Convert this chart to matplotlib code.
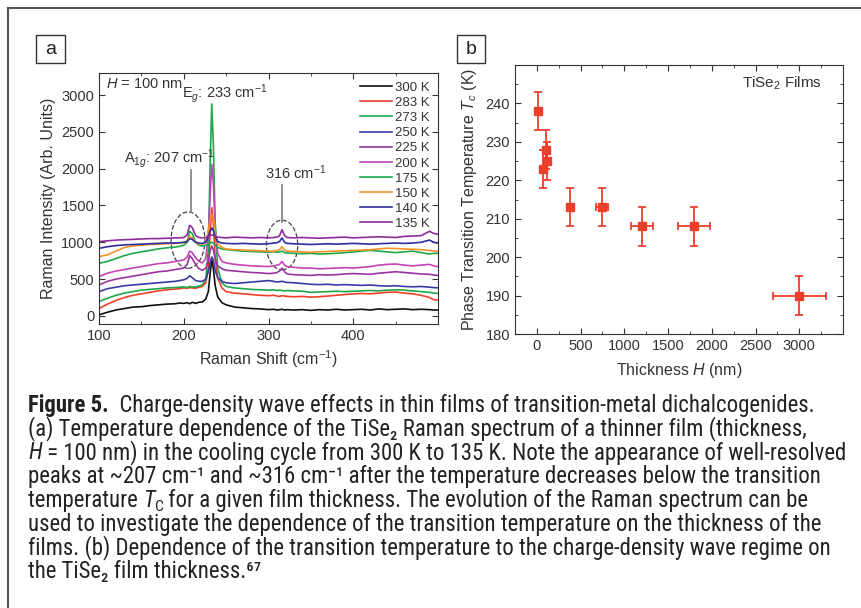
import numpy as np
import matplotlib
matplotlib.use("Agg")
import matplotlib.pyplot as plt
from matplotlib.patches import Ellipse, Rectangle
from matplotlib.ticker import MultipleLocator

plt.rcParams['font.family'] = ['Liberation Sans', 'DejaVu Sans']
plt.rcParams['mathtext.fontset'] = 'custom'
plt.rcParams['mathtext.rm'] = 'Liberation Sans'
plt.rcParams['mathtext.it'] = 'Liberation Sans:italic'
plt.rcParams['mathtext.bf'] = 'Liberation Sans:bold'

# ---- panel a: Raman spectra ----
shift = [100, 110, 120, 130, 140, 150, 160, 170, 180, 190,
         195, 200, 204, 207, 210, 214, 218, 222, 226, 229, 231, 233, 235, 237, 240, 245, 250,
         260, 270, 280, 290, 300, 306, 310, 313, 316, 319, 322, 330,
         340, 350, 360, 370, 380, 390, 400, 410, 420, 430, 440, 450, 460, 470, 480, 490, 495, 500]

temps = ['300 K', '283 K', '273 K', '250 K', '225 K', '200 K', '175 K', '150 K', '140 K', '135 K']
colors = ['#111111', '#f0402a', '#1fa84a', '#3a3aa6', '#9a34a2', '#c544b6', '#1fa84a', '#f7922a', '#2e2e9c', '#8e2c9c']

I_300 = [15, 50, 80, 100, 120, 125, 140, 150, 160, 165,
         175, 170, 180, 165, 185, 170, 185, 190, 230, 330, 560, 760, 640, 420, 260, 180, 150,
         120, 110, 100, 95, 85, 90, 80, 85, 90, 80, 85, 80,
         85, 75, 85, 80, 90, 80, 85, 90, 80, 95, 85, 90, 95, 85, 90, 85, 80, 80]
I_283 = [100, 160, 210, 250, 280, 300, 320, 340, 355, 365,
         370, 380, 375, 385, 380, 375, 390, 400, 450, 650, 1100, 1470, 1250, 800, 520, 380, 330,
         310, 300, 290, 280, 275, 280, 270, 265, 275, 270, 265, 260,
         265, 255, 260, 270, 280, 290, 300, 305, 300, 310, 320, 325, 310, 300, 280, 250, 220, 215]
I_273 = [195, 240, 280, 310, 330, 350, 360, 370, 380, 385,
         390, 395, 385, 400, 395, 390, 405, 420, 500, 900, 2000, 2880, 2300, 1300, 650, 450, 400,
         380, 370, 360, 355, 350, 355, 345, 350, 345, 340, 345, 340,
         335, 320, 325, 330, 335, 330, 335, 340, 345, 340, 350, 355, 350, 340, 330, 320, 310, 305]
I_250 = [330, 370, 390, 410, 420, 430, 440, 450, 460, 470,
         480, 490, 510, 545, 520, 480, 470, 470, 500, 600, 720, 800, 760, 620, 520, 470, 450,
         440, 450, 460, 470, 480, 470, 460, 465, 470, 460, 455, 450,
         440, 430, 425, 430, 420, 425, 420, 415, 420, 410, 405, 410, 400, 395, 400, 390, 385, 380]
I_225 = [420, 470, 500, 520, 540, 560, 580, 600, 610, 630,
         640, 650, 700, 820, 780, 700, 640, 620, 650, 750, 880, 950, 900, 780, 680, 640, 620,
         610, 600, 590, 585, 575, 580, 590, 610, 650, 600, 570, 560,
         555, 550, 560, 555, 560, 570, 575, 570, 565, 580, 590, 600, 590, 580, 570, 565, 555, 550]
I_200 = [534, 580, 610, 630, 650, 670, 690, 710, 720, 740,
         750, 760, 800, 880, 860, 790, 740, 720, 780, 1100, 1600, 2060, 1800, 1200, 850, 740, 720,
         700, 690, 680, 675, 670, 680, 690, 700, 740, 690, 670, 660,
         650, 650, 640, 645, 650, 655, 650, 660, 670, 690, 700, 705, 690, 680, 690, 700, 680, 670]
I_175 = [715, 740, 780, 820, 850, 870, 890, 910, 925, 935,
         945, 960, 1000, 1150, 1120, 1000, 960, 950, 960, 980, 990, 1000, 990, 960, 930, 910, 900,
         890, 880, 875, 870, 865, 870, 865, 870, 880, 860, 855, 850,
         845, 850, 840, 845, 850, 860, 870, 880, 890, 880, 870, 860, 870, 880, 860, 840, 850, 850]
I_150 = [805, 830, 880, 930, 950, 960, 970, 975, 980, 985,
         990, 995, 1020, 1080, 1060, 1000, 980, 975, 1000, 1150, 1300, 1380, 1330, 1150, 980, 930, 910,
         900, 895, 890, 885, 880, 880, 890, 900, 940, 895, 880, 875,
         870, 865, 870, 875, 880, 885, 890, 895, 900, 910, 920, 915, 910, 905, 900, 890, 880, 880]
I_140 = [918, 940, 955, 965, 970, 975, 980, 985, 990, 990,
         995, 1000, 1010, 1050, 1040, 1000, 990, 985, 1000, 1080, 1150, 1195, 1160, 1080, 1010, 990, 985,
         980, 985, 980, 975, 980, 990, 995, 1010, 1060, 1000, 985, 980,
         975, 970, 975, 980, 975, 980, 985, 980, 975, 980, 985, 990, 985, 990, 1000, 1030, 1000, 990]
I_135 = [1010, 1020, 1030, 1035, 1040, 1045, 1050, 1050, 1055, 1060,
         1060, 1065, 1100, 1230, 1200, 1090, 1065, 1060, 1065, 1080, 1095, 1100, 1095, 1080, 1070, 1065, 1060,
         1070, 1065, 1060, 1065, 1060, 1065, 1070, 1090, 1170, 1090, 1065, 1060,
         1065, 1060, 1055, 1060, 1065, 1070, 1060, 1065, 1070, 1075, 1070, 1065, 1080, 1085, 1090, 1150, 1120, 1110]
spectra = [I_300, I_283, I_273, I_250, I_225, I_200, I_175, I_150, I_140, I_135]

# ---- panel b: Tc vs thickness ----
thick = [10, 70, 100, 115, 375, 745, 1200, 1800, 3000]
thick_err = [0, 0, 0, 0, 0, 70, 125, 185, 300]
tc = [238, 223, 228, 225, 213, 213, 208, 208, 190]
tc_err = [5, 5, 5, 5, 5, 5, 5, 5, 5]

W, H = 861, 608
fig = plt.figure(figsize=(W / 100, H / 100), dpi=100)

def fx(px):
    return px / W

def fy(py):
    return 1 - py / H

# outer frame (only top and left edges are visible)
fig.add_artist(plt.Line2D([fx(8), fx(8)], [fy(8), 0], color='#555555', lw=1.5))
fig.add_artist(plt.Line2D([fx(8), 1], [fy(8), fy(8)], color='#555555', lw=1.5))

txtc = '#333333'
tick_kw = dict(direction='in', top=True, right=True, labelsize=10.5, colors=txtc, labelcolor=txtc)

ax1 = fig.add_axes([fx(99), fy(324), fx(438) - fx(99), fy(73) - fy(324)])
for y, c, t in zip(spectra, colors, temps):
    ax1.plot(shift, y, color=c, lw=1.2, label=t)
ax1.set_xlim(100, 500)
ax1.set_ylim(-110, 3300)
ax1.set_xticks([100, 200, 300, 400])
ax1.set_yticks([0, 500, 1000, 1500, 2000, 2500, 3000])
ax1.xaxis.set_minor_locator(MultipleLocator(50))
ax1.tick_params(which='major', length=4, **tick_kw)
ax1.tick_params(which='minor', length=2, direction='in', top=True, right=True, colors=txtc)
ax1.set_xlabel('Raman Shift (cm$^{-1}$)', fontsize=11.5, color=txtc, labelpad=4)
ax1.set_ylabel('Raman Intensity (Arb. Units)', fontsize=11.5, color=txtc, labelpad=4)
for s in ax1.spines.values():
    s.set_color('#333333')
leg = ax1.legend(loc='upper right', frameon=False, fontsize=9.5, handlelength=2.4,
                 handletextpad=0.2, labelspacing=0.22, borderaxespad=0.25)
for t in leg.get_texts():
    t.set_color(txtc)

ax1.text(108, 3150, '$H$ = 100 nm', fontsize=10.5, color=txtc, va='center')
ax1.text(198, 3020, 'E$_g$: 233 cm$^{-1}$', fontsize=10.5, color=txtc, va='center')
ax1.text(130, 2140, 'A$_{1g}$: 207 cm$^{-1}$', fontsize=10.5, color=txtc, va='center')
ax1.text(296, 1940, '316 cm$^{-1}$', fontsize=10.5, color=txtc, va='center')
ax1.plot([209, 209], [1981, 1411], color='#888888', lw=1.3)
ax1.plot([316, 316], [1777, 1275], color='#888888', lw=1.3)
ax1.add_patch(Ellipse((205, 1030), 40, 765, fill=False, ls='--', ec='#444444', lw=0.9))
ax1.add_patch(Ellipse((316, 963), 37, 675, fill=False, ls='--', ec='#444444', lw=0.9))

ax2 = fig.add_axes([fx(515), fy(334), fx(843) - fx(515), fy(65) - fy(334)])
ax2.errorbar(thick, tc, xerr=thick_err, yerr=tc_err, fmt='s', color='#ec3f2b', ms=6,
             elinewidth=1.3, capsize=3, capthick=1.3)
ax2.set_xlim(-250, 3500)
ax2.set_ylim(180, 250)
ax2.set_xticks([0, 500, 1000, 1500, 2000, 2500, 3000])
ax2.set_yticks([180, 190, 200, 210, 220, 230, 240])
ax2.xaxis.set_minor_locator(MultipleLocator(250))
ax2.yaxis.set_minor_locator(MultipleLocator(5))
ax2.tick_params(which='major', length=4, **tick_kw)
ax2.tick_params(which='minor', length=2, direction='in', top=True, right=True, colors=txtc)
ax2.set_xlabel('Thickness $H$ (nm)', fontsize=11.5, color=txtc, labelpad=6)
ax2.set_ylabel('Phase Transition Temperature $T_c$ (K)', fontsize=11.5, color=txtc, labelpad=5)
for s in ax2.spines.values():
    s.set_color('#333333')
ax2.text(0.936, 0.933, 'TiSe$_2$ Films', transform=ax2.transAxes, ha='right', va='center',
         fontsize=11, color=txtc)

# panel letters in boxes
for lab, (x0, y0, x1, y1) in [('a', (36, 35, 65, 63)), ('b', (457, 35, 485, 63))]:
    fig.add_artist(Rectangle((fx(x0), fy(y1)), fx(x1) - fx(x0), fy(y0) - fy(y1),
                             fill=False, ec='#333333', lw=1.0))
    fig.text(fx((x0 + x1) / 2), fy((y0 + y1) / 2), lab, ha='center', va='center',
             fontsize=14, color='#222222')

# caption, drawn as runs of plain text so bold / italic / subscript pieces line up
cap_font = ['Roboto Condensed', 'DejaVu Sans']
cap_size = 16.4
renderer = fig.canvas.get_renderer()

def caption_line(y_base, runs):
    x = 28
    for txt, style in runs:
        kw = dict(fontsize=cap_size, family=cap_font, color='#222222', ha='left', va='baseline')
        dy = 0
        if style == 'bold':
            kw['fontweight'] = 'bold'
        elif style == 'italic':
            kw['fontstyle'] = 'italic'
        elif style == 'sub':
            kw['fontsize'] = cap_size * 0.68
            dy = 4
        t = fig.text(fx(x), fy(y_base + dy), txt, **kw)
        x = t.get_window_extent(renderer).x1

N = 'normal'
cap_runs = [
    [('Figure 5.', 'bold'), ('  Charge-density wave effects in thin films of transition-metal dichalcogenides.', N)],
    [('(a) Temperature dependence of the TiSe\u2082 Raman spectrum of a thinner film (thickness,', N)],
    [('H', 'italic'), (' = 100 nm) in the cooling cycle from 300 K to 135 K. Note the appearance of well-resolved', N)],
    [('peaks at ~207 cm\u207b\u00b9 and ~316 cm\u207b\u00b9 after the temperature decreases below the transition', N)],
    [('temperature ', N), ('T', 'italic'), ('C', 'sub'),
     (' for a given film thickness. The evolution of the Raman spectrum can be', N)],
    [('used to investigate the dependence of the transition temperature on the thickness of the', N)],
    [('films. (b) Dependence of the transition temperature to the charge-density wave regime on', N)],
    [('the TiSe\u2082 film thickness.\u2076\u2077', N)],
]
for i, runs in enumerate(cap_runs):
    caption_line(412 + i * 23.7, runs)

fig.savefig('out.png', dpi=100)
